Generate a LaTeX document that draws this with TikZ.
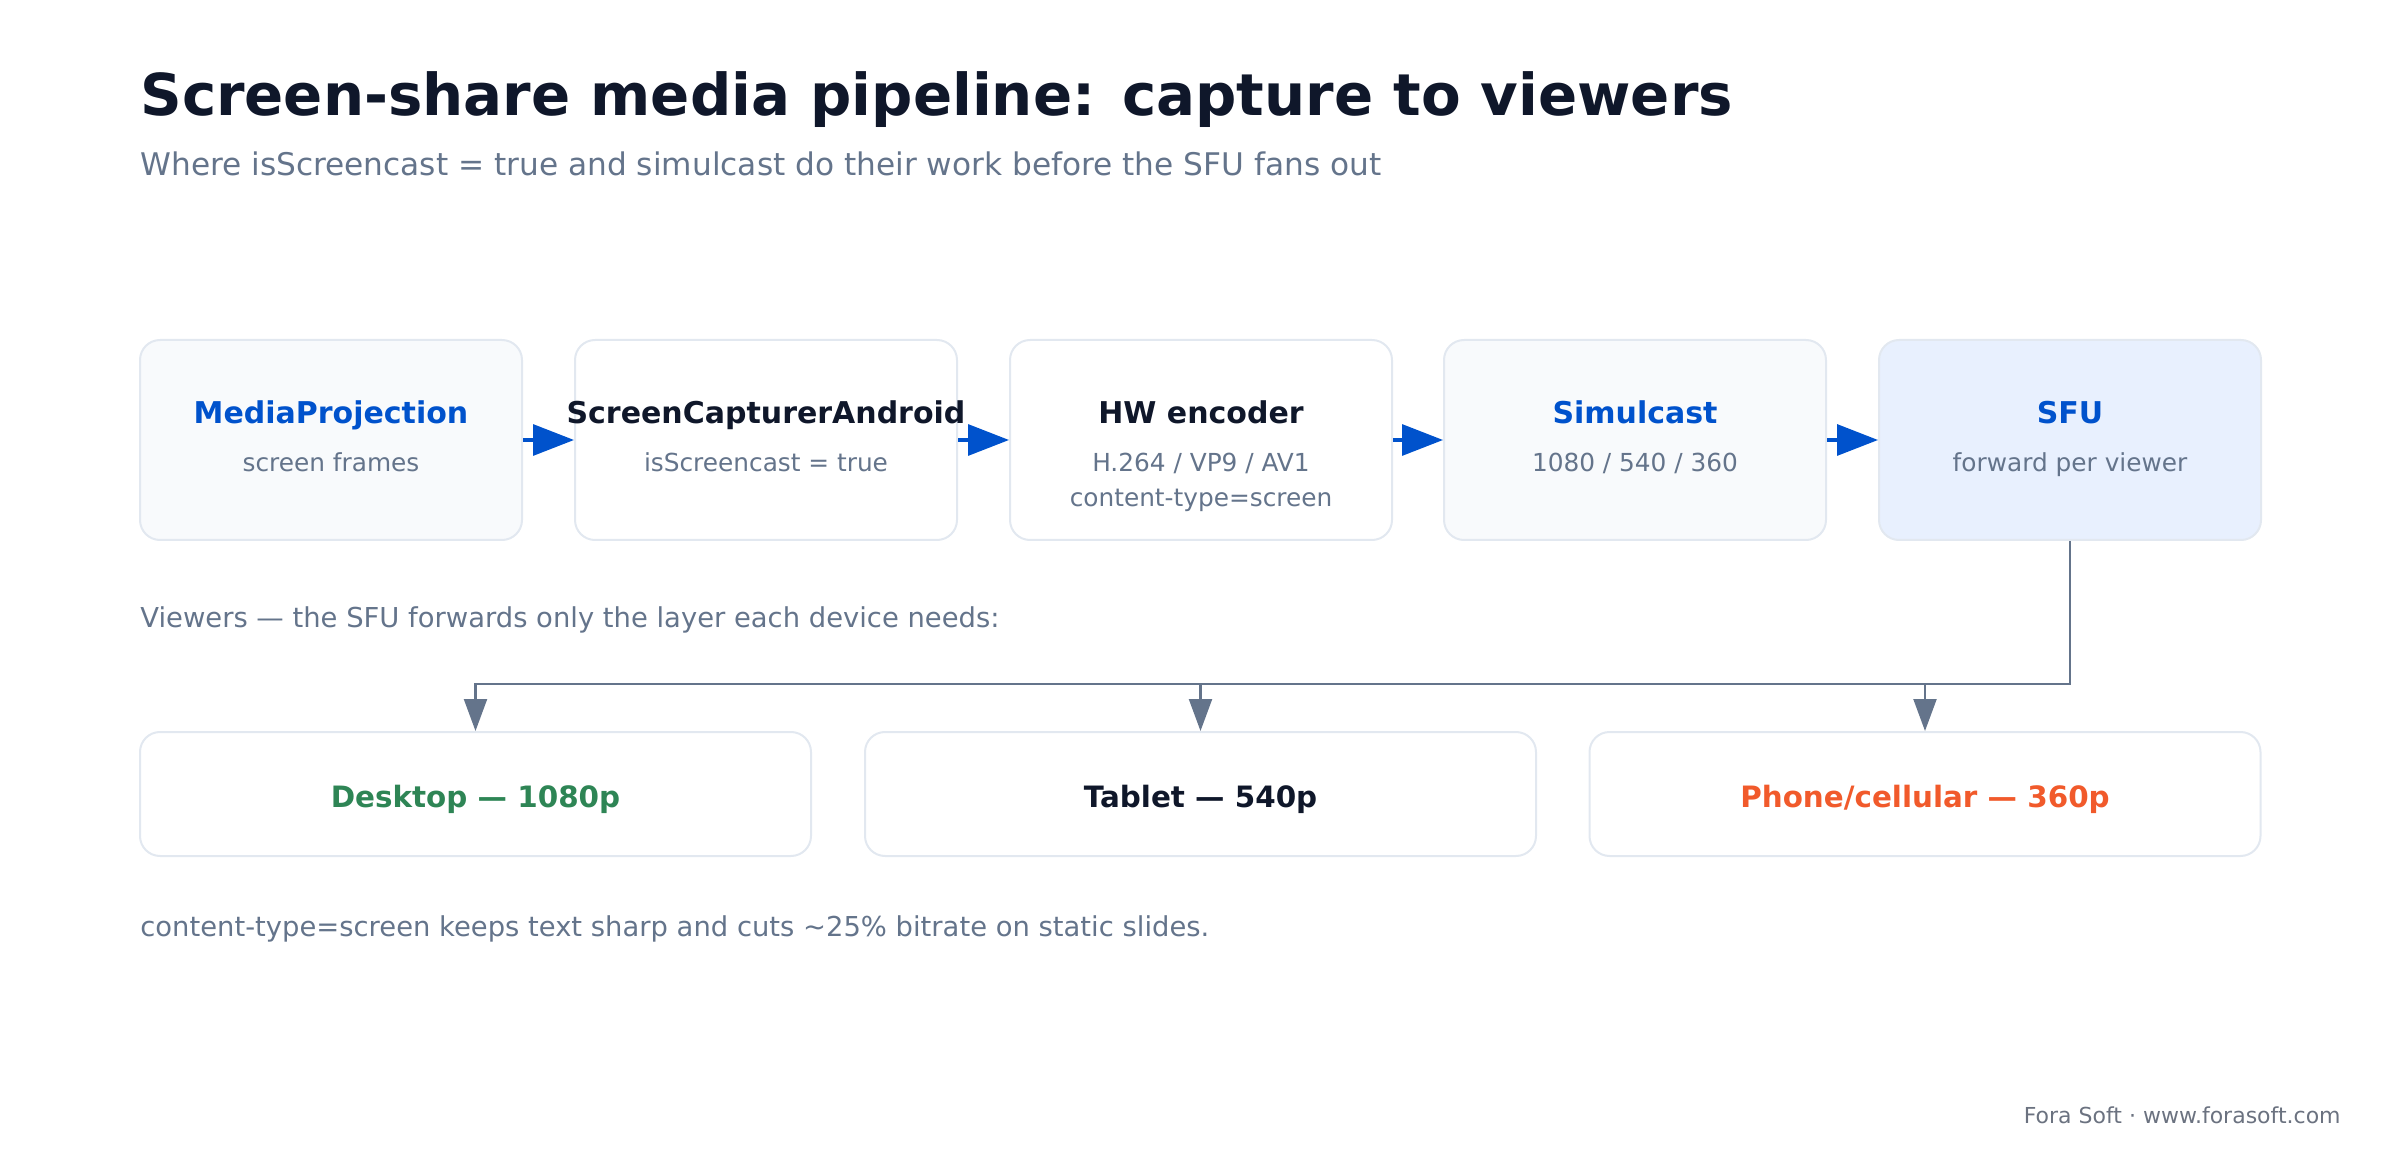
\documentclass[tikz,border=0pt]{standalone}
\usepackage{fontspec}
\setmainfont{DejaVu Sans}
\usetikzlibrary{arrows.meta}
\definecolor{ink}{HTML}{0F172A}
\definecolor{slate}{HTML}{64748B}
\definecolor{accent}{HTML}{0052CC}
\definecolor{okgreen}{HTML}{2E8555}
\definecolor{warnorange}{HTML}{F15A2B}
\definecolor{softfill}{HTML}{F8FAFC}
\definecolor{bluefill}{HTML}{E8F0FE}
\definecolor{edge}{HTML}{E2E8F0}
\definecolor{footgray}{HTML}{6B7280}
\newcommand{\fs}[1]{\fontsize{#1}{#1}\selectfont}
\tikzset{
  stagebox/.style={draw=edge, line width=1pt, rounded corners=10pt, minimum width=191pt, minimum height=100pt, inner sep=0pt},
  viewbox/.style={draw=edge, line width=1pt, rounded corners=10pt, fill=white, minimum width=335.5pt, minimum height=62pt, inner sep=0pt},
  boxtitle/.style={anchor=base, inner sep=0pt, font=\fs{15}\bfseries},
  viewtitle/.style={anchor=base, inner sep=0pt, font=\fs{14.7}\bfseries},
  boxsub/.style={anchor=base, inner sep=0pt, font=\fs{12.4}, text=slate},
  plain/.style={anchor=base west, inner sep=0pt},
  flow/.style={draw=accent, line width=1.6pt, -{Triangle[length=20.5pt,width=15.5pt]}},
  fanarrow/.style={draw=slate, line width=1.1pt, -{Triangle[length=16pt,width=11.5pt]}}
}
\begin{document}
\begin{tikzpicture}[x=0.5pt, y=-0.5pt]
\useasboundingbox (0,0) rectangle (2400,1160);
% title
\node[plain, font=\fs{28.9}\bfseries, text=ink] (title) at (140,116) {Screen-share media pipeline: capture to viewers};
\node[plain, font=\fs{15.6}, text=slate] (subtitle) at (140,176) {Where isScreencast = true and simulcast do their work before the SFU fans out};
% stage boxes
\node[stagebox, fill=softfill] (b1) at (331,440) {};
\node[stagebox, fill=white] (b2) at (766,440) {};
\node[stagebox, fill=white] (b3) at (1201,440) {};
\node[stagebox, fill=softfill] (b4) at (1635,440) {};
\node[stagebox, fill=bluefill] (b5) at (2070,440) {};
% stage texts
\node[boxtitle, text=accent] (t1) at (331,424) {MediaProjection};
\node[boxsub] (s1) at (331,472) {screen frames};
\node[boxtitle, text=ink] (t2) at (766,424) {ScreenCapturerAndroid};
\node[boxsub] (s2) at (766,472) {isScreencast = true};
\node[boxtitle, text=ink] (t3) at (1201,424) {HW encoder};
\node[boxsub] (s3) at (1201,472) {H.264 / VP9 / AV1};
\node[boxsub] (s3b) at (1201,507) {content-type=screen};
\node[boxtitle, text=accent] (t4) at (1635,424) {Simulcast};
\node[boxsub] (s4) at (1635,472) {1080 / 540 / 360};
\node[boxtitle, text=accent] (t5) at (2070,424) {SFU};
\node[boxsub] (s5) at (2070,472) {forward per viewer};
% flow arrows
\draw[flow] (b1.east) -- (b2.west);
\draw[flow] (b2.east) -- (b3.west);
\draw[flow] (b3.east) -- (b4.west);
\draw[flow] (b4.east) -- (b5.west);
% viewers caption
\node[plain, font=\fs{13.7}, text=slate] (vcap) at (140,627) {Viewers — the SFU forwards only the layer each device needs:};
% viewer boxes
\node[viewbox] (desk) at (475.5,794) {};
\node[viewbox] (tab) at (1200.5,794) {};
\node[viewbox] (phone) at (1925,794) {};
\node[viewtitle, text=okgreen] (dt) at (475.5,807) {Desktop — 1080p};
\node[viewtitle, text=ink] (tt) at (1200.5,807) {Tablet — 540p};
\node[viewtitle, text=warnorange] (pt) at (1925,807) {Phone/cellular — 360p};
% fan-out connectors
\coordinate (jR) at (2070,684);
\coordinate (jL) at (475.5,684);
\draw[fanarrow] (b5.south) -- (jR) -- (jL) -- (desk.north);
\draw[fanarrow] (tab.north |- jR) -- (tab.north);
\draw[fanarrow] (phone.north |- jR) -- (phone.north);
% note
\node[plain, font=\fs{13.7}, text=slate] (note) at (140,936) {content-type=screen keeps text sharp and cuts \textasciitilde25\% bitrate on static slides.};
% footer
\node[anchor=base east, inner sep=0pt, font=\fs{11}, text=footgray] (foot) at (2341,1123) {Fora Soft · www.forasoft.com};
\end{tikzpicture}
\end{document}
